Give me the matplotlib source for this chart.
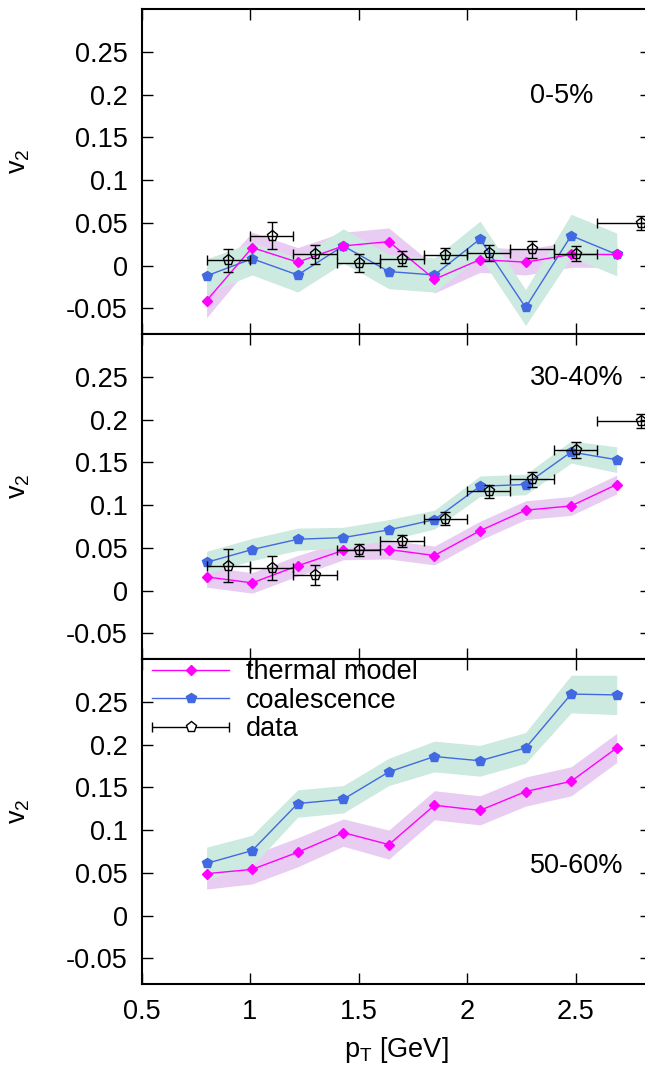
import numpy as np
import matplotlib
matplotlib.use('Agg')
import matplotlib.pyplot as plt
from matplotlib.ticker import FormatStrFormatter, MultipleLocator
from matplotlib.legend_handler import HandlerErrorbar
from matplotlib.container import ErrorbarContainer

plt.rcParams['font.family'] = ['Liberation Sans', 'DejaVu Sans']

# transverse momentum bins
pt_model = [0.8, 1.01, 1.22, 1.43, 1.64, 1.85, 2.06, 2.27, 2.48, 2.69]
pt_data = [0.9, 1.1, 1.3, 1.5, 1.7, 1.9, 2.1, 2.3, 2.5, 2.8]
pt_data_err = [0.1, 0.1, 0.1, 0.1, 0.1, 0.1, 0.1, 0.1, 0.1, 0.2]

# 0-5%
thermal_0_5 = [-0.041, 0.021, 0.004, 0.023, 0.028, -0.016, 0.007, 0.004, 0.013, 0.013]
thermal_0_5_err = [0.02, 0.018, 0.017, 0.016, 0.016, 0.016, 0.015, 0.015, 0.015, 0.015]
coal_0_5 = [-0.012, 0.008, -0.011, 0.023, -0.007, -0.011, 0.031, -0.049, 0.035, 0.013]
coal_0_5_err = [0.02, 0.019, 0.02, 0.02, 0.02, 0.02, 0.021, 0.021, 0.025, 0.025]
data_0_5 = [0.006, 0.035, 0.013, 0.003, 0.008, 0.012, 0.015, 0.019, 0.014, 0.050]
data_0_5_err = [0.013, 0.016, 0.011, 0.010, 0.0085, 0.0085, 0.0095, 0.010, 0.009, 0.008]

# 30-40%
thermal_30_40 = [0.016, 0.009, 0.029, 0.047, 0.048, 0.041, 0.070, 0.094, 0.099, 0.124]
thermal_30_40_err = [0.012, 0.012, 0.012, 0.011, 0.011, 0.011, 0.011, 0.011, 0.011, 0.011]
coal_30_40 = [0.033, 0.048, 0.060, 0.062, 0.071, 0.083, 0.122, 0.124, 0.162, 0.153]
coal_30_40_err = [0.013, 0.013, 0.013, 0.012, 0.012, 0.011, 0.012, 0.012, 0.013, 0.015]
data_30_40 = [0.029, 0.026, 0.018, 0.047, 0.058, 0.084, 0.116, 0.130, 0.164, 0.198]
data_30_40_err = [0.0195, 0.014, 0.012, 0.007, 0.007, 0.0075, 0.008, 0.009, 0.0095, 0.008]

# 50-60%
thermal_50_60 = [0.049, 0.054, 0.074, 0.097, 0.083, 0.129, 0.123, 0.145, 0.157, 0.196]
thermal_50_60_err = [0.018, 0.017, 0.017, 0.016, 0.017, 0.017, 0.017, 0.017, 0.017, 0.017]
coal_50_60 = [0.061, 0.076, 0.131, 0.136, 0.168, 0.186, 0.181, 0.196, 0.259, 0.258]
coal_50_60_err = [0.019, 0.018, 0.016, 0.016, 0.016, 0.018, 0.018, 0.018, 0.022, 0.023]

panels = [
    ('0-5%', thermal_0_5, thermal_0_5_err, coal_0_5, coal_0_5_err, data_0_5, data_0_5_err, 0.732),
    ('30-40%', thermal_30_40, thermal_30_40_err, coal_30_40, coal_30_40_err, data_30_40, data_30_40_err, 0.865),
    ('50-60%', thermal_50_60, thermal_50_60_err, coal_50_60, coal_50_60_err, None, None, 0.363),
]

MAG = '#ff00ff'
BLUE = '#4169e1'
MAG_BAND = '#e8ccf2'
GREEN_BAND = '#cdeae0'
FS = 19.5

fig = plt.figure(figsize=(6.45, 10.66), dpi=100)
W, H = 645.0, 1066.0
left = 141.5 / W
bottoms = [334, 659, 984]
ph = 325 / H

for i, (tag, th, th_e, co, co_e, da, da_e, ty) in enumerate(panels):
    ax = fig.add_axes([left, (H - bottoms[i]) / H, 1.0 - left + 0.01, ph])
    x = np.array(pt_model)
    th = np.array(th); th_e = np.array(th_e)
    co = np.array(co); co_e = np.array(co_e)
    ax.fill_between(x, th - th_e, th + th_e, color=MAG_BAND, lw=0, zorder=1)
    ax.fill_between(x, co - co_e, co + co_e, color=GREEN_BAND, lw=0, zorder=2)
    ax.plot(x, th, color=MAG, lw=1, marker='D', ms=5.5, zorder=4, label='thermal model')
    ax.plot(x, co, color=BLUE, lw=1, marker='p', ms=7.5, zorder=3, label='coalescence')
    if da is not None:
        ax.errorbar(pt_data, da, xerr=pt_data_err, yerr=da_e, fmt='p', ms=8,
                    mfc='none', mec='black', mew=1, ecolor='black', elinewidth=1,
                    capsize=3.5, capthick=1, zorder=5)
    else:
        # proxy entry for the legend
        ax.errorbar([np.nan], [np.nan], xerr=[0.1], fmt='p', ms=8,
                    mfc='white', mec='black', mew=1, ecolor='black',
                    elinewidth=1, capsize=3.5, capthick=1, label='data')
        ax.legend(loc='upper left', bbox_to_anchor=(10.5 / 503.5, 1.0),
                  frameon=False, fontsize=FS,
                  handlelength=2.85, handletextpad=0.6, labelspacing=0.1,
                  borderaxespad=0, borderpad=0,
                  handler_map={ErrorbarContainer: HandlerErrorbar(xerr_size=1.42)})

    ax.text(0.762, ty, tag, transform=ax.transAxes, fontsize=FS, va='center', ha='left')

    ax.set_xlim(0.5, 2.85)
    ax.set_ylim(-0.08, 0.30)
    ax.xaxis.set_major_locator(MultipleLocator(0.5))
    ax.yaxis.set_ticks([-0.05, 0, 0.05, 0.1, 0.15, 0.2, 0.25])
    ax.yaxis.set_major_formatter(FormatStrFormatter('%g'))
    ax.xaxis.set_major_formatter(FormatStrFormatter('%g'))
    ax.tick_params(direction='in', length=8, width=1, top=True, right=True,
                   labelsize=FS)
    ax.tick_params(axis='y', pad=10)
    ax.tick_params(axis='x', pad=11)
    if i < 2:
        ax.tick_params(labelbottom=False)
    else:
        ax.set_xlabel(r'p$_\mathregular{T}$ [GeV]', fontsize=FS, labelpad=7)
    ax.set_ylabel(r'v$_\mathregular{2}$', fontsize=FS)
    ax.yaxis.set_label_coords(-0.215, 0.53)
    for s in ax.spines.values():
        s.set_linewidth(1.5)

fig.savefig('out.png', dpi=100)
